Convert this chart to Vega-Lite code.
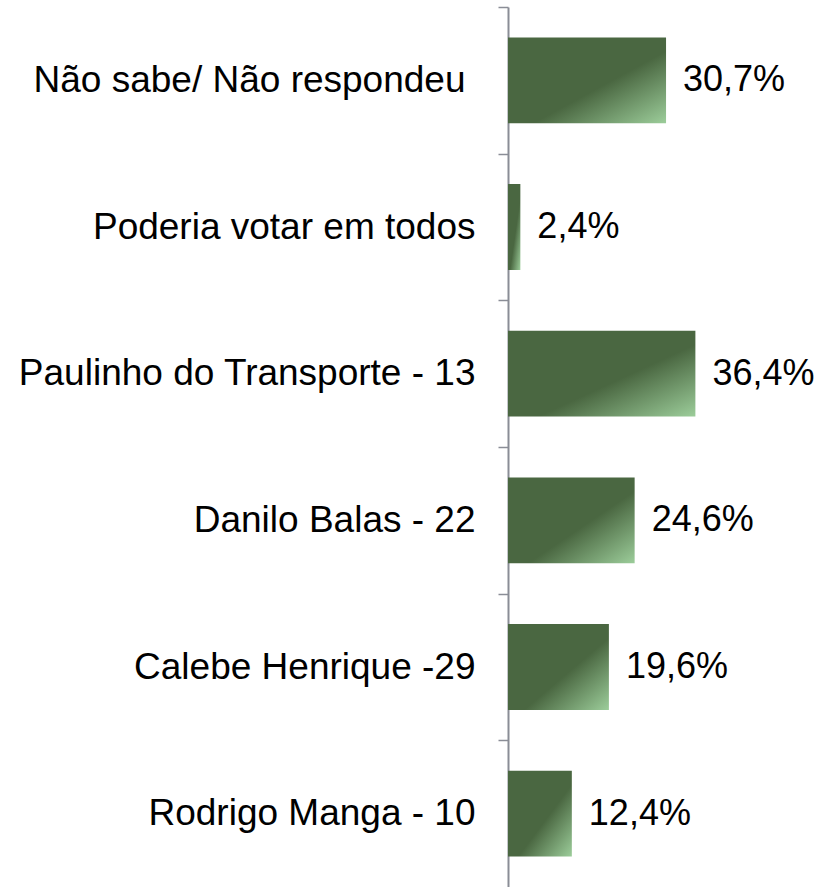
{
  "$schema": "https://vega.github.io/schema/vega-lite/v6.json",
  "width": 313,
  "height": 880,
  "autosize": "none",
  "padding": {"left": 508, "top": 7, "right": 0, "bottom": 0},
  "background": "white",
  "config": {"view": {"stroke": null}, "font": "Liberation Sans"},
  "data": {"values": [
    {"cat": "Não sabe/ Não respondeu", "v": 30.7, "label": "30,7%"},
    {"cat": "Poderia votar em todos", "v": 2.4, "label": "2,4%"},
    {"cat": "Paulinho do Transporte - 13", "v": 36.4, "label": "36,4%"},
    {"cat": "Danilo Balas - 22", "v": 24.6, "label": "24,6%"},
    {"cat": "Calebe Henrique -29", "v": 19.6, "label": "19,6%"},
    {"cat": "Rodrigo Manga - 10", "v": 12.4, "label": "12,4%"}
  ]},
  "encoding": {
    "y": {"field": "cat", "type": "nominal", "sort": null,
      "scale": {"padding": 0},
      "axis": {"title": null, "domainColor": "#8a8d96", "domainWidth": 2, "tickColor": "#8a8d96", "tickWidth": 1.5, "tickSize": 10, "tickOffset": -73.33, "labelOffset": 73.33, "labelFontSize": 37, "labelColor": "#000000",
        "labelPadding": {"condition": {"test": "datum.value === 'Não sabe/ Não respondeu'", "value": 33}, "value": 23},
        "labelLimit": 600, "labelFont": "Liberation Sans"}},
    "x": {"field": "v", "type": "quantitative", "scale": {"domain": [0, 60.8]}, "axis": null}
  },
  "layer": [
    {"mark": {"type": "bar", "height": {"band": 0.585}, "color": {"gradient": "linear", "x1": 0, "y1": 0, "x2": 1, "y2": 1, "stops": [{"offset": 0, "color": "#4a6741"}, {"offset": 0.58, "color": "#4a6741"}, {"offset": 1, "color": "#9ccd9a"}]}}},
    {"mark": {"type": "text", "align": "left", "baseline": "middle", "dx": 17, "fontSize": 36, "color": "#000000", "font": "Liberation Sans"}, "encoding": {"text": {"field": "label"}}}
  ]
}
